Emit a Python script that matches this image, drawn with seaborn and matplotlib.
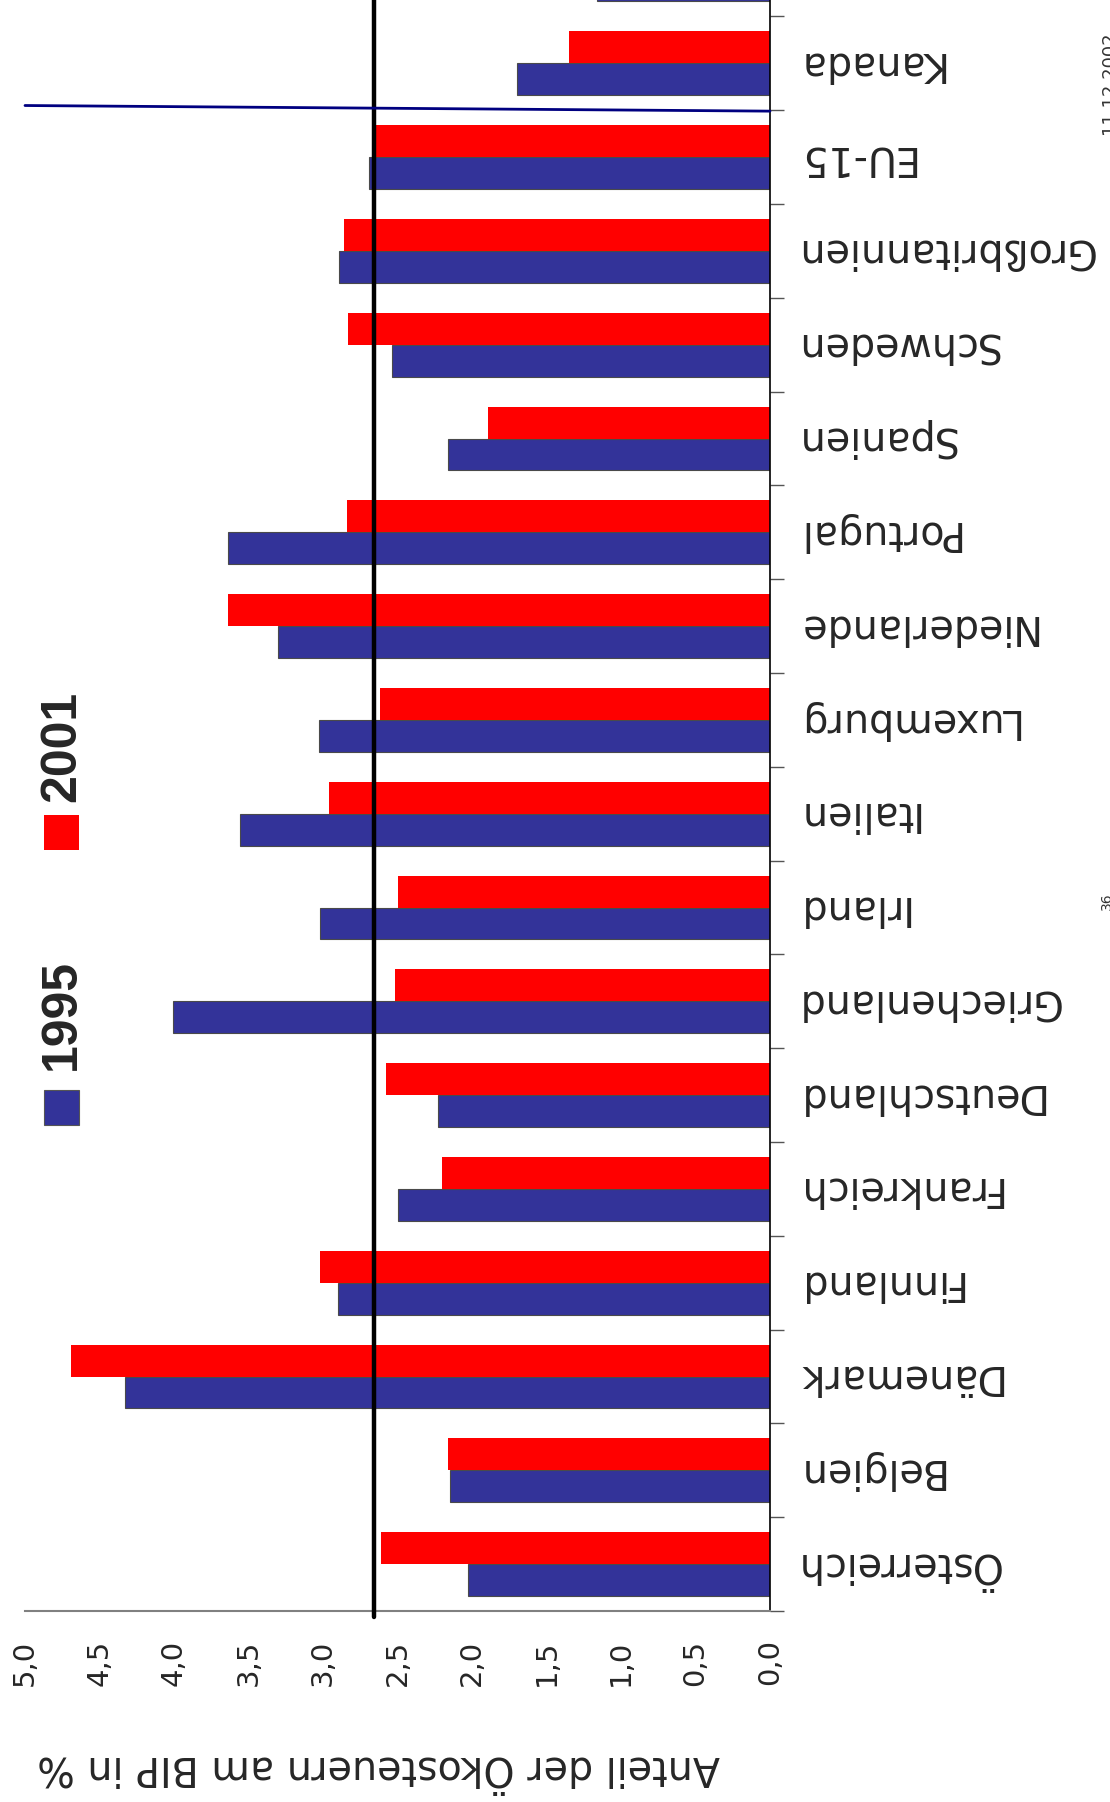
import numpy as np
import pandas as pd
import seaborn as sns
import matplotlib
matplotlib.use("Agg")
import matplotlib.pyplot as plt
from matplotlib.patches import Rectangle
from matplotlib.colors import to_rgb

# Share of eco-taxes in GDP (%), 1995 vs 2001
countries = ["Österreich", "Belgien", "Dänemark", "Finnland", "Frankreich",
             "Deutschland", "Griechenland", "Irland", "Italien", "Luxemburg",
             "Niederlande", "Portugal", "Spanien", "Schweden", "Großbritannien",
             "EU-15", "Kanada", ""]
share_1995 = [2.03, 2.15, 4.33, 2.90, 2.50, 2.23, 4.01, 3.02, 3.56, 3.03,
              3.30, 3.64, 2.16, 2.54, 2.89, 2.69, 1.70, 1.16]
share_2001 = [2.61, 2.16, 4.69, 3.02, 2.20, 2.58, 2.52, 2.50, 2.96, 2.62,
              3.64, 2.84, 1.89, 2.83, 2.86, 2.65, 1.35]
years = ["1995", "2001"]
eu_average = 2.66
value_ticks = [0.0, 0.5, 1.0, 1.5, 2.0, 2.5, 3.0, 3.5, 4.0, 4.5, 5.0]

BLUE = "#333399"
RED = "#FF0000"

rows = [(c, years[0], v) for c, v in zip(countries, share_1995)]
rows += [(c, years[1], v) for c, v in zip(countries, share_2001)]
df = pd.DataFrame(rows, columns=["Land", "Jahr", "Anteil"])

sns.set_style("white")
plt.rcParams["font.family"] = ["DejaVu Sans"]

W, H = 1110, 1802
fig = plt.figure(figsize=(W / 100, H / 100), dpi=100)
cat_px = 93.8
ax = fig.add_axes([25 / W, 191 / H, 745 / W, len(countries) * cat_px / H])

sns.barplot(data=df, y="Land", x="Anteil", hue="Jahr", order=countries,
            hue_order=years, palette={years[0]: BLUE, years[1]: RED},
            orient="h", width=0.68, saturation=1, errorbar=None,
            legend=False, linewidth=0, ax=ax)

for p in ax.patches:
    if np.allclose(p.get_facecolor()[:3], to_rgb(BLUE)):
        p.set_edgecolor("#4a4a4a")
        p.set_linewidth(0.8)

ax.set_xlim(5, 0)
ax.set_ylim(-0.5, len(countries) - 0.5)

# value axis at the bottom, labels turned a quarter
ax.set_xticks(value_ticks)
ax.set_xticklabels([f"{v:.1f}".replace(".", ",") for v in value_ticks],
                   rotation=90, fontsize=21)
ax.tick_params(axis="x", direction="out", length=8.5, width=1.2,
               color="#777777", pad=12)

# country axis on the right, labels upside down
ax.yaxis.tick_right()
n_named = len(countries) - 1
ax.set_yticks(range(n_named))
ax.set_yticklabels(countries[:n_named], rotation=180, ha="left",
                   va="center", fontsize=28.5)
for lbl in ax.get_yticklabels():
    lbl.set_y(lbl.get_position()[1])
ax.set_yticks(np.arange(-0.5, len(countries) - 1, 1.0), minor=True)
ax.tick_params(axis="y", which="major", length=0, pad=18)
ax.tick_params(axis="y", which="minor", direction="out", length=10,
               width=1.0, color="#555555")

ax.set_xlabel("Anteil der Ökosteuern am BIP in %", rotation=180,
              fontsize=28.5)
ax.xaxis.set_label_coords(0.475, -0.0924)
ax.xaxis.label.set_va("center")
ax.set_ylabel("")

ax.spines["top"].set_visible(False)
ax.spines["left"].set_visible(False)
ax.spines["bottom"].set_color("#808080")
ax.spines["bottom"].set_linewidth(1.5)
ax.spines["right"].set_color("black")
ax.spines["right"].set_linewidth(1.2)
ax.grid(False)

# EU-15 average
ax.axvline(eu_average, ymin=-0.0036, ymax=1, color="black", lw=3.2,
           clip_on=False, zorder=5)

# separator between EU members and Kanada
sep = countries.index("Kanada") - 0.5
ax.plot([5.0, 0.0], [sep + 0.05, sep - 0.01], color="#000080", lw=2.0,
        clip_on=False, zorder=6)

# legend
fig.add_artist(Rectangle((44 / W, 1 - 1125 / H), 35 / W, 35 / H,
                         transform=fig.transFigure, facecolor=BLUE,
                         edgecolor="#555555", lw=0.8))
fig.add_artist(Rectangle((44 / W, 1 - 850 / H), 35 / W, 35 / H,
                         transform=fig.transFigure, facecolor=RED,
                         edgecolor="none"))
fig.text(62 / W, 1 - 1015 / H, years[0], rotation=90, ha="center",
         va="center", fontsize=36, fontweight="bold",
         family="Liberation Sans")
fig.text(62 / W, 1 - 746 / H, years[1], rotation=90, ha="center",
         va="center", fontsize=36, fontweight="bold",
         family="Liberation Sans")

# page footer
fig.text(1100 / W, 1 - 83 / H, "11.12.2002", rotation=90, ha="left",
         va="center", fontsize=13, color="#333333")
fig.text(1100 / W, 1 - 901 / H, "36", rotation=90, ha="left",
         va="center", fontsize=10, color="#333333")

fig.savefig("out.png", dpi=100)
